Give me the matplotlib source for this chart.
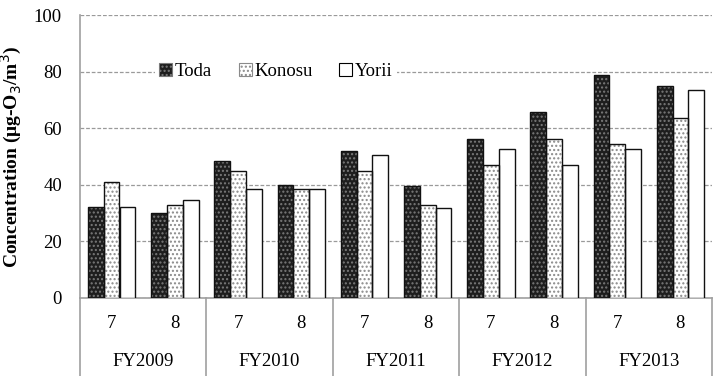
"""Monthly ozone concentration at three sites, FY2009-FY2013."""
import numpy as np
import matplotlib

matplotlib.use("Agg")
import matplotlib.pyplot as plt  # noqa: E402
from matplotlib.patches import Patch  # noqa: E402

YEARS = ["FY2009", "FY2010", "FY2011", "FY2012", "FY2013"]
MONTHS = ["7", "8"]
SITES = ["Toda", "Konosu", "Yorii"]

toda = [32, 30, 48.5, 40, 52, 39.7, 56.2, 65.8, 78.8, 75]
konosu = [41, 33, 45, 38.5, 44.8, 33, 47, 56.2, 54.5, 63.5]
yorii = [32, 34.7, 38.5, 38.5, 50.6, 31.8, 52.8, 47, 52.8, 73.5]

plt.rcParams["font.family"] = ["Liberation Serif", "DejaVu Serif"]
plt.rcParams["hatch.linewidth"] = 1.0

fig = plt.figure(figsize=(7.17, 3.76), dpi=100)
ax = fig.add_axes([80 / 717, 78 / 376, 632 / 717, 283 / 376])

n = len(toda)
x = np.arange(n)
width = 0.25

styles = [
    (toda, "#1e1e1e", "....", "#7a7a7a"),
    (konosu, "white", "....", "#8a8a8a"),
    (yorii, "white", None, "black"),
]
handles = []
for i, (vals, face, hatch, hcol) in enumerate(styles):
    pos = x + (i - 1) * width
    ax.bar(pos, vals, width=width, color=face, hatch=hatch, edgecolor=hcol, linewidth=0, zorder=3)
    ax.bar(pos, vals, width=width, fill=False, edgecolor="#111111", linewidth=1.0, zorder=4)
    handles.append(Patch(facecolor=face, hatch=hatch, edgecolor=hcol if hatch else "black", linewidth=0.8))

ax.set_xlim(-0.5, n - 0.5)
ax.set_ylim(0, 100)
ax.set_yticks([0, 20, 40, 60, 80, 100])
ax.tick_params(axis="y", length=0, pad=13, labelsize=13.5)
ax.yaxis.grid(True, linestyle=(0, (3, 1.5)), color="#9a9a9a", linewidth=0.9)
ax.set_axisbelow(True)

ax.set_xticks(x, MONTHS * len(YEARS))
ax.tick_params(axis="x", length=0, pad=12, labelsize=13.5)

for side in ["top", "right"]:
    ax.spines[side].set_visible(False)
for side in ["left", "bottom"]:
    ax.spines[side].set_color("#a0a0a0")
    ax.spines[side].set_linewidth(1.2)

# category table below the axis
trans = ax.get_xaxis_transform()
for k in range(len(YEARS) + 1):
    ax.plot([2 * k - 0.5, 2 * k - 0.5], [0, -0.3], transform=trans, color="#a0a0a0",
            linewidth=1.2, clip_on=False)
for k, year in enumerate(YEARS):
    ax.text(2 * k + 0.5, -0.225, year, transform=trans, ha="center", va="center", fontsize=13.5)

ax.set_ylabel("Concentration (μg-O$_3$/m$^3$)", fontsize=14, fontweight="bold", labelpad=7)

leg = ax.legend(handles, SITES, ncol=3, loc="center", bbox_to_anchor=(0.31, 0.80),
                frameon=True, fontsize=13.5, handlelength=0.7, handleheight=0.7,
                handletextpad=0.15, columnspacing=1.4, borderpad=0.2)
leg.get_frame().set_edgecolor("none")
leg.get_frame().set_facecolor("white")
leg.get_frame().set_alpha(1)

fig.savefig("out.png", dpi=100)
